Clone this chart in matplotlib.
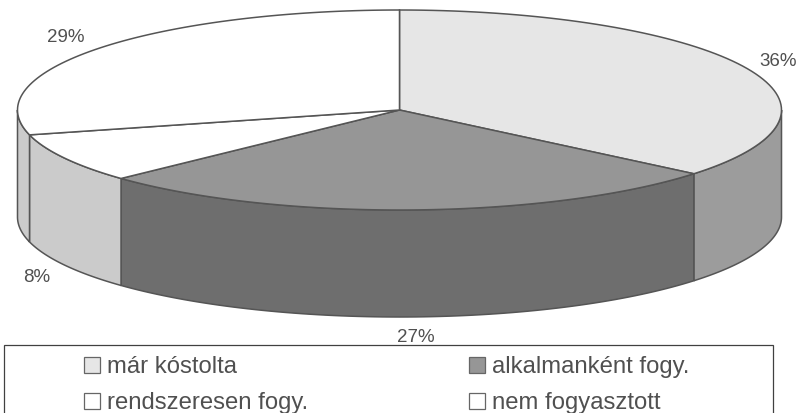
import numpy as np
import matplotlib
matplotlib.use('Agg')
import matplotlib.pyplot as plt
from matplotlib.patches import Patch, Rectangle

labels = ['már kóstolta', 'rendszeresen fogy.', 'alkalmanként fogy.', 'nem fogyasztott']
names = ['már kóstolta', 'alkalmanként fogy.', 'rendszeresen fogy.', 'nem fogyasztott']
shares = [36, 27, 8, 29]
top_colors = ['#e6e6e6', '#969696', '#ffffff', '#ffffff']
side_colors = ['#9c9c9c', '#6e6e6e', '#cbcbcb', '#cbcbcb']
label_pos = [(778, 62), (416, 338), (37, 278), (66, 37)]

cx, cy = 399.5, 110
rx, ry = 382, 100
depth = 107
edge = '#555555'

plt.rcParams['font.family'] = ['Liberation Sans', 'DejaVu Sans']

fig = plt.figure(figsize=(7.99, 4.13), dpi=100)
ax = fig.add_axes([0, 0, 1, 1])
ax.set_xlim(0, 799)
ax.set_ylim(413, 0)
ax.axis('off')


def rim(a0, a1, n=80):
    # angles run clockwise from the top of the ellipse
    t = np.radians(np.linspace(a0, a1, n))
    return cx + rx * np.sin(t), cy - ry * np.cos(t)


bounds = np.cumsum([0] + shares) * 3.6

# walls first, only the front half of the rim shows
for i in range(len(shares)):
    a0 = max(bounds[i], 90)
    a1 = min(bounds[i + 1], 270)
    if a1 <= a0:
        continue
    x, y = rim(a0, a1)
    ax.fill(np.r_[x, x[::-1]], np.r_[y, y[::-1] + depth], fc=side_colors[i], ec=edge, lw=1.1, zorder=2)

# top face
for i in range(len(shares)):
    x, y = rim(bounds[i], bounds[i + 1])
    ax.fill(np.r_[cx, x], np.r_[cy, y], fc=top_colors[i], ec=edge, lw=1.1, zorder=3)

for s, (lx, ly) in zip(shares, label_pos):
    ax.text(lx, ly, f'{s}%', fontsize=13.5, color='#505050', ha='center', va='center')

# legend box runs off the lower edge
ax.add_patch(Rectangle((4, 345), 769, 80, fc='white', ec='#404040', lw=0.9, zorder=1))

colors = dict(zip(names, top_colors))
handles = [Patch(fc=colors[n], ec='#666666', lw=0.9, label=n) for n in labels]
leg = ax.legend(handles=handles, ncols=2, loc='upper left',
                bbox_to_anchor=(84, 356), bbox_transform=ax.transData,
                frameon=False, fontsize=17.2, labelcolor='#505050',
                handlelength=0.65, handleheight=0.65, handletextpad=0.33,
                labelspacing=0.6, columnspacing=6.72, borderaxespad=0, borderpad=0)
leg.set_zorder(4)

fig.savefig('out.png', dpi=100)
